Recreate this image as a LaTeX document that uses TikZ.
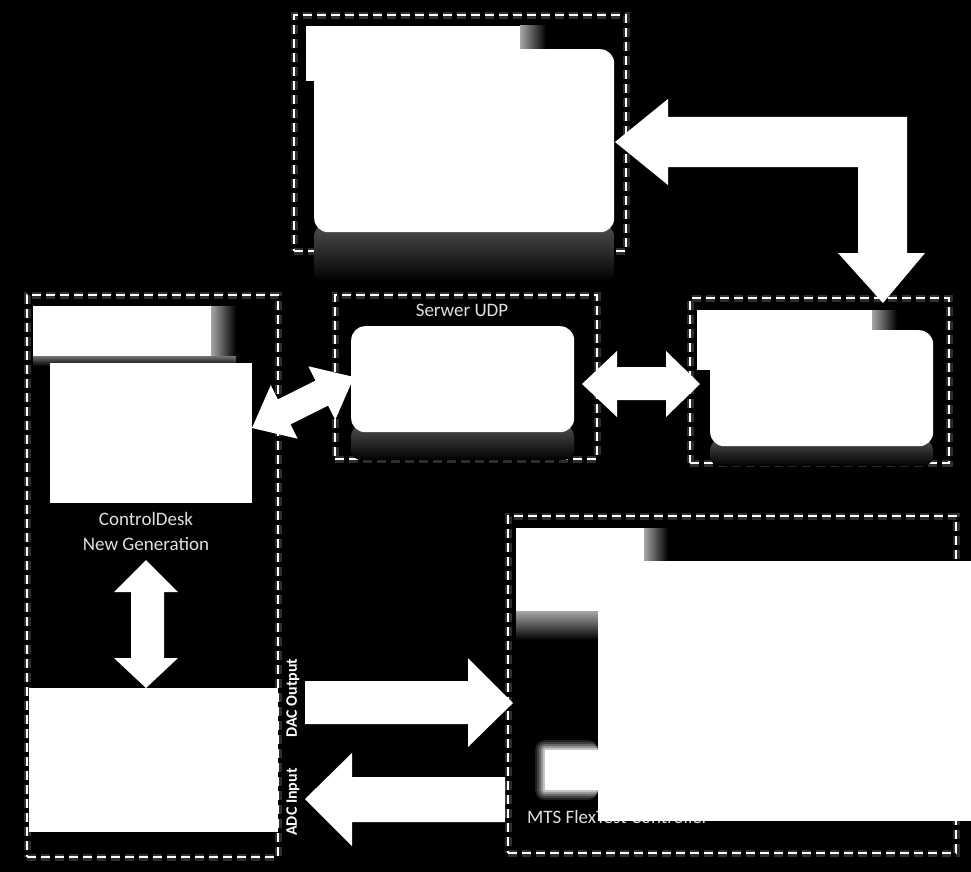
\documentclass[tikz,border=0pt]{standalone}
\usepackage{fontspec}
\setmainfont{Carlito}
\usetikzlibrary{calc}
\begin{document}
\begin{tikzpicture}[x=1pt,y=-1pt,
  dbox/.style={draw=white, line width=2.4pt, dash pattern=on 9pt off 5pt,
     preaction={draw=white, opacity=0.18, line width=7pt, dash pattern=on 9pt off 5pt},
     inner sep=0pt, anchor=north west},
  panel/.style={fill=white, inner sep=0pt, anchor=north west},
  rpanel/.style={panel, rounded corners=14pt},
  refl/.style={top color=white!30!black, bottom color=black, rounded corners=10pt},
  blockarrow/.style={fill=white},
  lbl/.style={text=white!88!black, font=\fontsize{19}{25}\selectfont, inner sep=0pt},
  vlbl/.style={text=white, font=\bfseries\fontsize{16}{18}\selectfont, inner sep=0pt, rotate=90}
]
\fill[black] (0,0) rectangle (971,872);
\useasboundingbox (0,0) rectangle (971,872);

% ---------- top box ----------
\node[dbox, minimum width=332pt, minimum height=236pt] (topbox) at (293,14) {};
\shade[refl] (314,226) rectangle (614,282);
\node[panel, minimum width=214pt, minimum height=55pt] (toplabel) at (306,26) {};
\shade[left color=white!65!black, right color=black] (520,26) rectangle (546,49);
\node[rpanel, minimum width=300pt, minimum height=183pt] (topscreen) at (314,49) {};

% ---------- left box ----------
\node[dbox, minimum width=251pt, minimum height=562pt] (leftbox) at (26,294) {};
\shade[left color=white!65!black, right color=black] (211,306) rectangle (236,356);
\shade[top color=white!45!black, bottom color=black] (33,356) rectangle (236,366);
\node[panel, minimum width=178pt, minimum height=50pt] (leftlabel) at (33,306) {};
\node[panel, minimum width=202pt, minimum height=140pt] (cdscreen) at (50,363) {};
\node[lbl, align=center, anchor=north] (cdtext) at (146,512) {ControlDesk\\New Generation};
\node[panel, minimum width=249pt, minimum height=144pt] (dspace) at (29,688) {};

% ---------- Serwer UDP ----------
\node[dbox, minimum width=262pt, minimum height=164pt] (udpbox) at (334,294) {};
\node[lbl] (udptext) at (462,310) {Serwer UDP};
\shade[refl] (351,426) rectangle (574,460);
\node[rpanel, minimum width=223pt, minimum height=106pt] (udpscreen) at (351,326) {};

% ---------- right middle box ----------
\node[dbox, minimum width=259pt, minimum height=165pt] (rbox) at (689,297) {};
\shade[refl] (710,440) rectangle (933,466);
\node[panel, minimum width=175pt, minimum height=60pt] (rlabel) at (697,310) {};
\shade[left color=white!65!black, right color=black] (872,310) rectangle (897,330);
\node[rpanel, minimum width=223pt, minimum height=116pt] (rscreen) at (710,330) {};

% ---------- bottom right box ----------
\node[dbox, minimum width=448pt, minimum height=337pt] (mtsbox) at (507,515) {};
\shade[left color=white!65!black, right color=black] (644,528) rectangle (668,561);
\shade[top color=white!65!black, bottom color=black] (516,611) rectangle (598,640);
\node[panel, minimum width=128pt, minimum height=83pt] (mtslabel) at (516,528) {};
\foreach \d/\o in {10/0.12, 8/0.15, 6/0.2, 4/0.3, 2/0.45}
  \fill[white, opacity=\o, rounded corners=\d pt] (545-\d,750-\d) rectangle (598,790+\d);
\fill[white] (545,750) rectangle (598,790);
\node[lbl, anchor=west] (mtstext) at (527,817) {MTS FlexTest Controller};
\node[panel, minimum width=373pt, minimum height=260pt] (mtsscreen) at (598,561) {};

% ---------- block arrows ----------
% L-shaped arrow between top box and right box
\fill[blockarrow] (615,142) -- (668,99) -- (668,117) -- (907,117) -- (907,253)
  -- (925,253) -- (883,303) -- (838,253) -- (858,253) -- (858,167)
  -- (668,167) -- (668,185) -- cycle;
% diagonal double arrow ControlDesk <-> Serwer UDP
\fill[blockarrow] (252,428) -- (297.6,438.7) -- (290.5,424.4) -- (328.1,405.6)
  -- (335.2,419.9) -- (354,377) -- (308.4,366.3) -- (315.5,380.6)
  -- (277.9,399.4) -- (270.8,385.1) -- cycle;
% horizontal double arrow Serwer UDP <-> right box
\fill[blockarrow] (582,384) -- (617,351) -- (617,367) -- (666,367) -- (666,351)
  -- (700,384) -- (666,417) -- (666,400) -- (617,400) -- (617,417) -- cycle;
% vertical double arrow
\fill[blockarrow] (146,560) -- (178,592) -- (164,592) -- (164,658) -- (178,658)
  -- (146,688) -- (114,658) -- (131,658) -- (131,592) -- (114,592) -- cycle;
% DAC output arrow
\fill[blockarrow] (305,681) -- (468,681) -- (468,658) -- (513,703) -- (468,747)
  -- (468,724) -- (305,724) -- cycle;
% ADC input arrow
\fill[blockarrow] (305,799) -- (352,753) -- (352,777) -- (505,777) -- (505,822)
  -- (352,822) -- (352,846) -- cycle;

\node[vlbl] (dac) at (293,698) {DAC Output};
\node[vlbl] (adc) at (293,802) {ADC Input};
\end{tikzpicture}
\end{document}
